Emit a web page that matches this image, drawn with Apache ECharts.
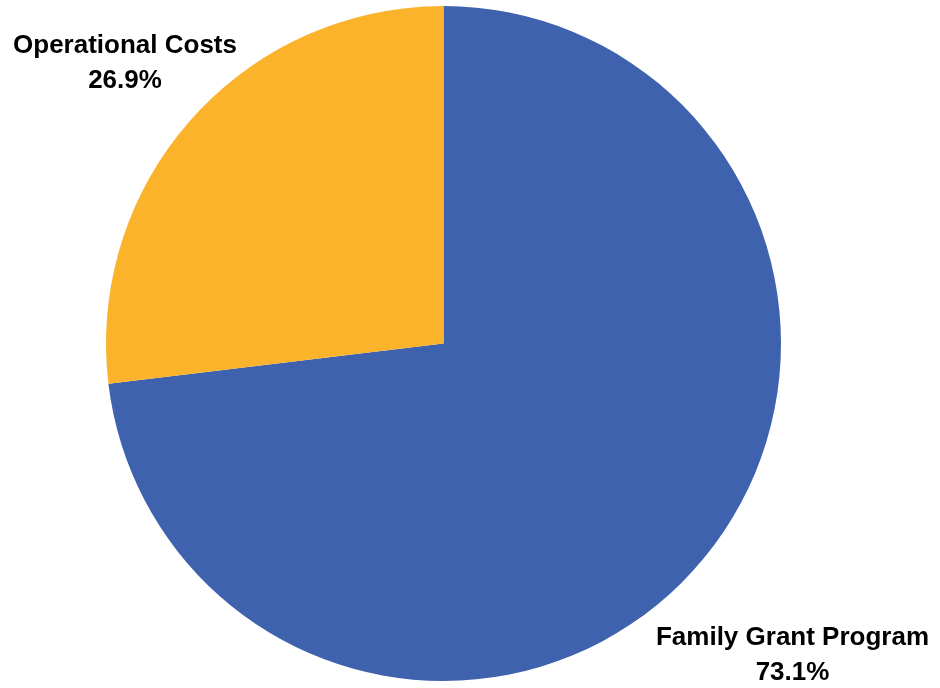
<!DOCTYPE html>
<html>
<head>
<meta charset="utf-8">
<script src="https://cdn.jsdelivr.net/npm/echarts@6/dist/echarts.min.js"></script>
<style>html,body{margin:0;padding:0;background:#fff;}#c{width:940px;height:688px;}</style>
</head>
<body>
<div id="c"></div>
<script>
var categories = ["Family Grant Program", "Operational Costs"];
var values = [73.1, 26.9];
var colors = ["#3F62AE", "#FBB32C"];
var labelPos = [[792.5, 655], [125, 63]];

var chart = echarts.init(document.getElementById('c'), null, {renderer: 'canvas'});
chart.setOption({
  animation: false,
  backgroundColor: '#ffffff',
  series: [{
    type: 'pie',
    center: [443.5, 343.5],
    radius: [0, 337.5],
    startAngle: 90,
    clockwise: true,
    data: categories.map(function (n, i) {
      return {name: n, value: values[i], itemStyle: {color: colors[i]}};
    }),
    label: {
      show: true,
      position: 'outside',
      formatter: function (p) { return p.name + '\n' + p.value.toFixed(1) + '%'; },
      fontFamily: 'Liberation Sans',
      fontWeight: 'bold',
      fontSize: 26,
      lineHeight: 35,
      color: '#000',
      align: 'center',
      overflow: 'none'
    },
    labelLine: {show: false},
    labelLayout: function (p) {
      var pos = labelPos[p.dataIndex];
      return {x: pos[0], y: pos[1], align: 'center', verticalAlign: 'middle'};
    },
    emphasis: {disabled: true}
  }]
});
</script>
</body>
</html>
